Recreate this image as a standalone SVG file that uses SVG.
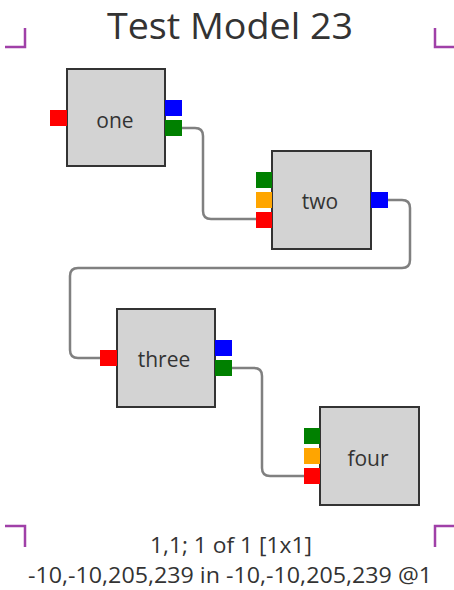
<svg xmlns="http://www.w3.org/2000/svg" width="454" height="590" viewBox="0 0 454 590">
<style>
.box{fill:#d3d3d3;stroke:#333;stroke-width:2}
.lbl{font-family:"Open Sans","Noto Sans",sans-serif;font-size:21px;fill:#333;text-anchor:middle}
.conn{fill:none;stroke:#808080;stroke-width:2.5}
.mark{fill:none;stroke:#a040a8;stroke-width:2.5}
.txt{font-family:"Open Sans","Noto Sans",sans-serif;fill:#333;text-anchor:middle}
.r{fill:#ff0000}.g{fill:#008000}.b{fill:#0000ff}.o{fill:#ffa500}
</style>
<rect width="454" height="590" fill="#fff"/>
<text class="txt" x="230" y="38.5" font-size="36" textLength="246" lengthAdjust="spacingAndGlyphs">Test Model 23</text>
<g id="marks">
<path class="mark" d="M5,47 H25 V28"/>
<path class="mark" d="M454,47 H435 V28"/>
<path class="mark" d="M5,526 H25 V547"/>
<path class="mark" d="M454,526 H435 V547"/>
</g>
<g id="connectors">
<path class="conn" d="M181,128 H195 Q203,128 203,136 V211 Q203,219 211,219 H256"/>
<path class="conn" d="M388,200 H402 Q410,200 410,208 V260 Q410,268 402,268 H78 Q70,268 70,276 V350 Q70,358 78,358 H100"/>
<path class="conn" d="M232,368 H254 Q262,368 262,376 V468 Q262,476 270,476 H304"/>
</g>
<g id="one">
<rect class="box" x="67" y="69" width="98" height="97"/>
<rect class="r" x="50" y="110" width="17" height="16"/>
<rect class="b" x="165" y="100" width="17" height="16"/>
<rect class="g" x="165" y="120" width="17" height="16"/>
<text class="lbl" x="115" y="128">one</text>
</g>
<g id="two">
<rect class="box" x="272" y="151" width="99" height="98"/>
<rect class="g" x="256" y="172" width="16" height="16"/>
<rect class="o" x="256" y="192" width="16" height="16"/>
<rect class="r" x="256" y="212" width="16" height="16"/>
<rect class="b" x="371" y="192" width="17" height="16"/>
<text class="lbl" x="320" y="209">two</text>
</g>
<g id="three">
<rect class="box" x="117" y="309" width="98" height="98"/>
<rect class="r" x="100" y="350" width="17" height="16"/>
<rect class="b" x="215" y="340" width="17" height="16"/>
<rect class="g" x="215" y="360" width="17" height="16"/>
<text class="lbl" x="164" y="367">three</text>
</g>
<g id="four">
<rect class="box" x="320" y="407" width="99" height="98"/>
<rect class="g" x="304" y="428" width="16" height="16"/>
<rect class="o" x="304" y="448" width="16" height="16"/>
<rect class="r" x="304" y="468" width="16" height="16"/>
<text class="lbl" x="368" y="466">four</text>
</g>
<text class="txt" x="231" y="553" font-size="21.5" textLength="162" lengthAdjust="spacingAndGlyphs">1,1; 1 of 1 [1x1]</text>
<text class="txt" x="230" y="583" font-size="21.5" textLength="404" lengthAdjust="spacingAndGlyphs">-10,-10,205,239 in -10,-10,205,239 @1</text>
</svg>
